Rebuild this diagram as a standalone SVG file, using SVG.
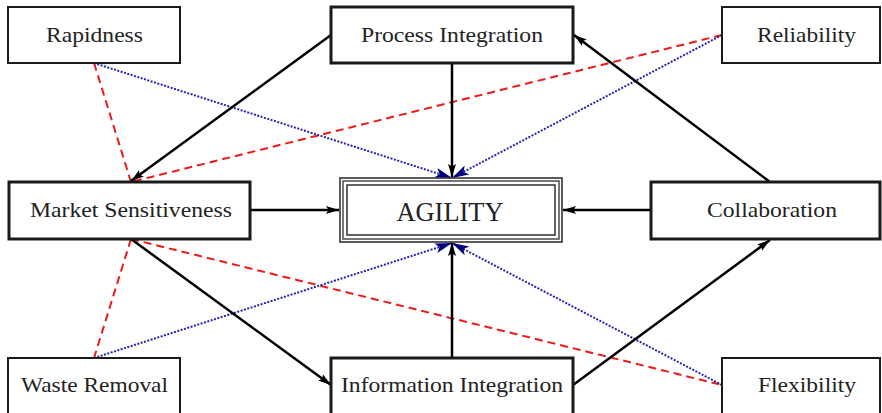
<svg xmlns="http://www.w3.org/2000/svg" width="882" height="413" viewBox="0 0 882 413">
<defs>
<style>
.box{fill:#fff;stroke:#1a1a1a}
.thin{stroke-width:2}
.thick{stroke-width:3}
.lbl{font-family:"Liberation Serif","Times New Roman",serif;font-size:22px;fill:#222;text-anchor:middle}
.big{font-size:27px}
.solid{fill:none;stroke:#000;stroke-width:2.5}
.dash{fill:none;stroke:#f01818;stroke-width:2;stroke-dasharray:8 5}
.dot{fill:none;stroke:#2626a8;stroke-width:2;stroke-dasharray:2 1.5}
</style>
<marker id="ah" markerUnits="userSpaceOnUse" markerWidth="14" markerHeight="10" refX="13" refY="4" orient="auto">
<path d="M0,0 L13,4 L0,8 L2.5,4 z" fill="#000"/>
</marker>
<marker id="bh" markerUnits="userSpaceOnUse" markerWidth="18" markerHeight="12" refX="17" refY="5" orient="auto">
<path d="M0,0 L17,5 L0,10 L4,5 z" fill="#000080"/>
</marker>
</defs>
<rect width="882" height="413" fill="#fff"/>
<g id="connectors">
<line class="dash" x1="94" y1="63" x2="131" y2="182"/>
<line class="dash" x1="722" y1="35" x2="131" y2="182"/>
<line class="dash" x1="131" y1="239" x2="94" y2="358"/>
<line class="dash" x1="131" y1="239" x2="722" y2="385"/>
<line class="dot" x1="94" y1="63" x2="452" y2="178" marker-end="url(#bh)"/>
<line class="dot" x1="722" y1="35" x2="452" y2="178" marker-end="url(#bh)"/>
<line class="dot" x1="94" y1="358" x2="452" y2="243" marker-end="url(#bh)"/>
<line class="dot" x1="722" y1="385" x2="452" y2="243" marker-end="url(#bh)"/>
<line class="solid" x1="452" y1="63" x2="452" y2="177" marker-end="url(#ah)"/>
<line class="solid" x1="452" y1="358" x2="452" y2="243" marker-end="url(#ah)"/>
<line class="solid" x1="250" y1="210" x2="339" y2="210" marker-end="url(#ah)"/>
<line class="solid" x1="651" y1="210" x2="563" y2="210" marker-end="url(#ah)"/>
<line class="solid" x1="331" y1="35" x2="131" y2="181" marker-end="url(#ah)"/>
<line class="solid" x1="131" y1="239" x2="331" y2="385" marker-end="url(#ah)"/>
<line class="solid" x1="573" y1="385" x2="770" y2="240" marker-end="url(#ah)"/>
<line class="solid" x1="770" y1="182" x2="574" y2="35" marker-end="url(#ah)"/>
</g>
<g id="rapidness">
<rect class="box thin" x="8" y="7" width="172" height="56"/>
<text class="lbl" x="94.5" y="42" textLength="97" lengthAdjust="spacingAndGlyphs">Rapidness</text>
</g>
<g id="process-integration">
<rect class="box thick" x="331" y="7" width="242" height="56"/>
<text class="lbl" x="452" y="42" textLength="182" lengthAdjust="spacingAndGlyphs">Process Integration</text>
</g>
<g id="reliability">
<rect class="box thin" x="722" y="7" width="158" height="56"/>
<text class="lbl" x="806.5" y="42" textLength="99" lengthAdjust="spacingAndGlyphs">Reliability</text>
</g>
<g id="market-sensitiveness">
<rect class="box thick" x="9" y="182" width="241" height="57"/>
<text class="lbl" x="131" y="217" textLength="202" lengthAdjust="spacingAndGlyphs">Market Sensitiveness</text>
</g>
<g id="agility">
<rect x="340" y="178" width="222" height="64" fill="#fff" stroke="#333" stroke-width="1.6"/>
<rect x="343" y="181" width="216" height="58" fill="none" stroke="#555" stroke-width="1.6"/>
<rect x="347" y="185" width="208" height="50" fill="none" stroke="#222" stroke-width="1.4"/>
<text class="lbl big" x="450" y="221" textLength="107" lengthAdjust="spacingAndGlyphs">AGILITY</text>
</g>
<g id="collaboration">
<rect class="box thick" x="651" y="182" width="229" height="57"/>
<text class="lbl" x="772" y="217" textLength="130" lengthAdjust="spacingAndGlyphs">Collaboration</text>
</g>
<g id="waste-removal">
<rect class="box thin" x="8" y="358" width="172" height="58"/>
<text class="lbl" x="94.5" y="392" textLength="147" lengthAdjust="spacingAndGlyphs">Waste Removal</text>
</g>
<g id="information-integration">
<rect class="box thick" x="331" y="358" width="242" height="58"/>
<text class="lbl" x="452" y="392" textLength="222" lengthAdjust="spacingAndGlyphs">Information Integration</text>
</g>
<g id="flexibility">
<rect class="box thin" x="722" y="358" width="158" height="58"/>
<text class="lbl" x="807" y="392" textLength="98" lengthAdjust="spacingAndGlyphs">Flexibility</text>
</g>
</svg>
